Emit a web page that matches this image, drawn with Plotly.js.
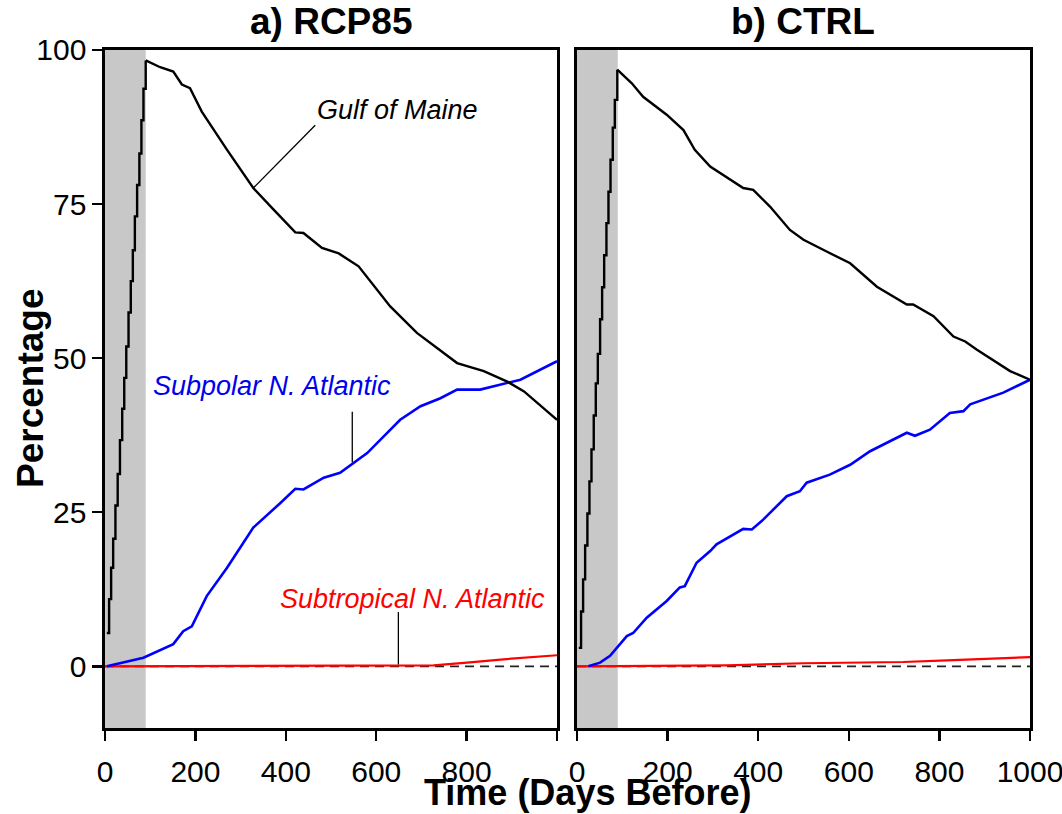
<!DOCTYPE html>
<html>
<head>
<meta charset="utf-8">
<script src="https://cdn.plot.ly/plotly-3.0.1.min.js"></script>
<style>html,body{margin:0;padding:0;background:#fff;}#chart{width:1062px;height:814px;}</style>
</head>
<body>
<div id="chart"></div>
<script>
// ---------- data ----------
const panelTitles = ["a) RCP85", "b) CTRL"];
const xTickVals = [0, 200, 400, 600, 800, 1000];
const xTickTextA = ["0", "200", "400", "600", "800", ""];
const xTickTextB = ["0", "200", "400", "600", "800", "1000"];
const yTickVals = [0, 25, 50, 75, 100];
const releaseWindowDays = [0, 90];

// RCP85 - Gulf of Maine (release ramp + decline)
const rampDaysA = [4, 9, 13.5, 18, 23, 28, 33, 38, 42.5, 47, 52, 57, 61.5, 66, 71, 76, 80.5, 85, 90];
const rampValsA = [5.4, 10.9, 16.0, 20.7, 26.1, 31.2, 36.7, 41.8, 46.8, 51.9, 57.4, 62.5, 67.5, 73.0, 78.1, 83.2, 88.6, 93.7, 98.3];
const gomDaysA = [90, 122, 151, 170, 188, 214, 270, 328, 373, 421, 439, 480, 517, 561, 631, 690, 779, 838, 890, 927, 1000];
const gomValsA = [98.3, 97.2, 96.5, 94.4, 93.8, 90.0, 83.8, 77.6, 74.1, 70.4, 70.3, 67.9, 67.0, 64.9, 58.4, 54.1, 49.2, 47.9, 46.2, 44.6, 40.0];
// RCP85 - Subpolar N. Atlantic
const spnaDaysA = [4, 85, 151, 173, 192, 225, 270, 328, 388, 421, 439, 484, 520, 550, 580, 653, 698, 742, 779, 830, 875, 919, 1000];
const spnaValsA = [0, 1.4, 3.6, 5.7, 6.5, 11.4, 16.0, 22.5, 26.5, 28.8, 28.7, 30.6, 31.4, 33.0, 34.6, 40.0, 42.2, 43.5, 44.9, 44.9, 45.7, 46.5, 49.5];
// RCP85 - Subtropical N. Atlantic
const stnaDaysA = [0, 616, 653, 727, 801, 875, 1000];
const stnaValsA = [0, 0.05, 0.16, 0.16, 0.6, 1.1, 1.8];

// CTRL - Gulf of Maine
const rampDaysB = [4, 9, 13.5, 18, 23, 27.5, 32, 37, 41.5, 46, 51, 55.5, 60, 65, 69.5, 74, 79, 83.5, 89];
const rampValsB = [3.0, 8.9, 14.1, 19.6, 24.8, 30.0, 35.2, 40.7, 45.9, 50.7, 56.3, 61.5, 66.7, 71.9, 77.0, 82.2, 87.4, 91.9, 96.8];
const gomDaysB = [89, 121, 146, 198, 235, 260, 294, 367, 389, 426, 470, 500, 551, 603, 662, 728, 742, 787, 831, 857, 882, 956, 1000];
const gomValsB = [96.8, 94.6, 92.4, 89.5, 87.0, 83.8, 81.1, 77.6, 77.3, 74.6, 70.8, 69.2, 67.3, 65.4, 61.6, 58.7, 58.7, 56.8, 53.5, 52.7, 51.4, 47.9, 46.5];
// CTRL - Subpolar N. Atlantic
const spnaDaysB = [25, 51, 73, 110, 124, 154, 198, 227, 238, 264, 294, 308, 367, 386, 411, 463, 492, 507, 558, 603, 647, 676, 728, 746, 779, 823, 853, 868, 941, 1000];
const spnaValsB = [0, 0.6, 1.7, 4.9, 5.4, 7.9, 10.6, 12.8, 13.0, 16.8, 18.7, 19.8, 22.3, 22.2, 23.8, 27.6, 28.4, 29.8, 31.1, 32.7, 34.9, 36.0, 37.9, 37.4, 38.4, 41.1, 41.4, 42.5, 44.4, 46.5];
// CTRL - Subtropical N. Atlantic
const stnaDaysB = [0, 330, 500, 720, 831, 1000];
const stnaValsB = [0, 0.16, 0.5, 0.7, 1.0, 1.5];

const zeroDays = [0, 1000];
const zeroVals = [0, 0];

// ---------- traces ----------
const FONT = "Liberation Sans, Arial, Helvetica, sans-serif";
function line(x, y, color, width, xa, ya, extra) {
  return Object.assign({
    type: "scatter", mode: "lines", x: x, y: y,
    line: {color: color, width: width},
    xaxis: xa, yaxis: ya, showlegend: false, hoverinfo: "skip"
  }, extra || {});
}
const traces = [
  line(zeroDays, zeroVals, "#222", 1.6, "x", "y", {line: {color: "#222", width: 1.6, dash: "9px,6px"}}),
  line(stnaDaysA, stnaValsA, "#ff0000", 2.2, "x", "y"),
  line(spnaDaysA, spnaValsA, "#0000ff", 2.6, "x", "y"),
  line(rampDaysA, rampValsA, "#000", 2.4, "x", "y", {line: {color: "#000", width: 2.4, shape: "hv"}}),
  line(gomDaysA, gomValsA, "#000", 2.4, "x", "y"),

  line(zeroDays, zeroVals, "#222", 1.6, "x2", "y2", {line: {color: "#222", width: 1.6, dash: "9px,6px"}}),
  line(stnaDaysB, stnaValsB, "#ff0000", 2.2, "x2", "y2"),
  line(spnaDaysB, spnaValsB, "#0000ff", 2.6, "x2", "y2"),
  line(rampDaysB, rampValsB, "#000", 2.4, "x2", "y2", {line: {color: "#000", width: 2.4, shape: "hv"}}),
  line(gomDaysB, gomValsB, "#000", 2.4, "x2", "y2")
];

// ---------- layout ----------
const yDom = [0.1057, 0.9386];
const axisCommon = {
  showline: true, mirror: true, linecolor: "#000", linewidth: 2.6,
  ticks: "outside", ticklen: 10, tickwidth: 2.4, tickcolor: "#000",
  showgrid: false, zeroline: false, ticklabeloverflow: "allow",
  tickfont: {family: FONT, size: 30, color: "#000"}
};
const layout = {
  width: 1062, height: 814,
  margin: {l: 0, r: 0, t: 0, b: 0},
  paper_bgcolor: "#fff", plot_bgcolor: "#fff",
  showlegend: false,
  xaxis: Object.assign({}, axisCommon, {domain: [0.0989, 0.5245], range: [0, 1000], anchor: "y",
    tickmode: "array", tickvals: xTickVals, ticktext: xTickTextA, ticklabelstandoff: 5}),
  yaxis: Object.assign({}, axisCommon, {domain: yDom, range: [-10, 100], anchor: "x",
    tickmode: "array", tickvals: yTickVals}),
  xaxis2: Object.assign({}, axisCommon, {domain: [0.5433, 0.9699], range: [0, 1000.01], anchor: "y2",
    tickmode: "array", tickvals: xTickVals, ticktext: xTickTextB, ticklabelstandoff: 5}),
  yaxis2: Object.assign({}, axisCommon, {domain: yDom, range: [-10, 100], anchor: "x2",
    ticks: "", showticklabels: false}),
  shapes: [
    {type: "rect", xref: "x", yref: "y", x0: releaseWindowDays[0], x1: releaseWindowDays[1], y0: -10, y1: 100,
      fillcolor: "#c8c8c8", line: {width: 0}, layer: "below"},
    {type: "rect", xref: "x2", yref: "y2", x0: releaseWindowDays[0], x1: releaseWindowDays[1], y0: -10, y1: 100,
      fillcolor: "#c8c8c8", line: {width: 0}, layer: "below"},
    // leader lines
    {type: "line", xref: "x", yref: "y", x0: 465, y0: 87.8, x1: 328, y1: 77.6, line: {color: "#000", width: 1.3}},
    {type: "line", xref: "x", yref: "y", x0: 547, y0: 41.3, x1: 547, y1: 33.1, line: {color: "#000", width: 1.3}},
    {type: "line", xref: "x", yref: "y", x0: 649, y0: 8.8, x1: 649, y1: 0.3, line: {color: "#000", width: 1.3}}
  ],
  annotations: [
    {xref: "paper", yref: "paper", x: 331/1062, y: 1 - 22/814, text: "<b>" + panelTitles[0] + "</b>",
      showarrow: false, font: {family: FONT, size: 37, color: "#000"}, xanchor: "center", yanchor: "middle"},
    {xref: "paper", yref: "paper", x: 803/1062, y: 1 - 22/814, text: "<b>" + panelTitles[1] + "</b>",
      showarrow: false, font: {family: FONT, size: 37, color: "#000"}, xanchor: "center", yanchor: "middle"},
    {xref: "paper", yref: "paper", x: 587/1062, y: 0, text: "<b>Time (Days Before)</b>",
      showarrow: false, font: {family: FONT, size: 36, color: "#000"}, xanchor: "center", yanchor: "bottom",
      borderpad: 0},
    {xref: "paper", yref: "paper", x: 30/1062, y: 1 - 388/814, text: "<b>Percentage</b>", textangle: -90,
      showarrow: false, font: {family: FONT, size: 37, color: "#000"}, xanchor: "center", yanchor: "middle"},
    {xref: "x", yref: "y", x: 647, y: 90.3, text: "<i>Gulf of Maine</i>",
      showarrow: false, font: {family: FONT, size: 27, color: "#000"}, xanchor: "center", yanchor: "middle"},
    {xref: "x", yref: "y", x: 370, y: 45.4, text: "<i>Subpolar N. Atlantic</i>",
      showarrow: false, font: {family: FONT, size: 27, color: "#0000ee"}, xanchor: "center", yanchor: "middle"},
    {xref: "x", yref: "y", x: 680, y: 10.9, text: "<i>Subtropical N. Atlantic</i>",
      showarrow: false, font: {family: FONT, size: 27, color: "#ff0000"}, xanchor: "center", yanchor: "middle"}
  ]
};

Plotly.newPlot("chart", traces, layout, {staticPlot: true, displayModeBar: false});
</script>
</body>
</html>
